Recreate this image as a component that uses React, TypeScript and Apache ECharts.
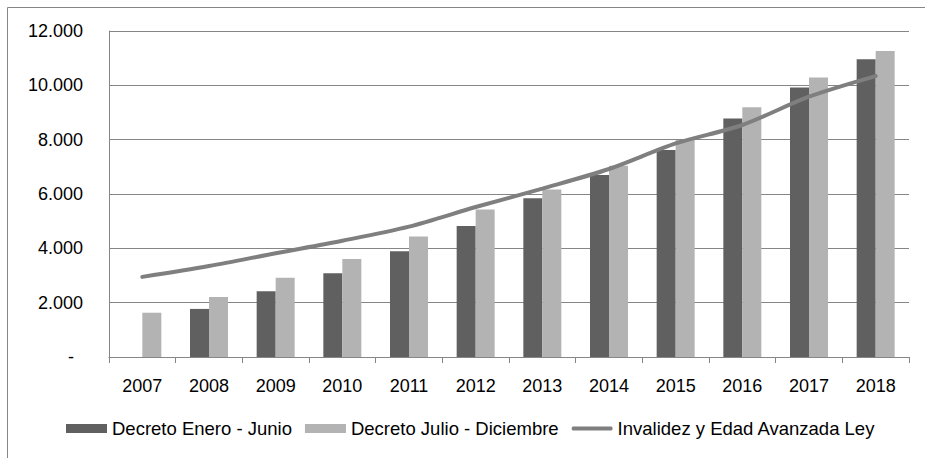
import React, { useEffect, useRef } from "react";
import * as echarts from "echarts";

const years = ["2007", "2008", "2009", "2010", "2011", "2012", "2013", "2014", "2015", "2016", "2017", "2018"];
const eneroJunio: (number | null)[] = [null, 1770, 2420, 3080, 3890, 4820, 5840, 6700, 7620, 8780, 9920, 10960];
const julioDiciembre = [1630, 2210, 2920, 3610, 4440, 5430, 6170, 7040, 7990, 9190, 10290, 11260];
const invalidezLey = [2950, 3350, 3820, 4280, 4800, 5520, 6200, 6920, 7860, 8540, 9580, 10340];
const seriesNames = ["Decreto Enero - Junio", "Decreto Julio - Diciembre", "Invalidez y Edad Avanzada Ley"];

const FONT = "'Liberation Sans', Arial, sans-serif";

function fmt(v: number): string {
  return String(Math.round(v)).replace(/\B(?=(\d{3})+(?!\d))/g, ".");
}

export default function App() {
  const ref = useRef<HTMLDivElement>(null);
  useEffect(() => {
    document.body.style.margin = "0";
    if (!ref.current) return;
    const chart = echarts.init(ref.current, undefined, { renderer: "svg" });
    chart.setOption({
      animation: false,
      backgroundColor: "#ffffff",
      textStyle: { fontFamily: FONT },
      graphic: [
        {
          type: "rect",
          shape: { x: 7.5, y: 7.5, width: 940, height: 470 },
          style: { fill: "none", stroke: "#868686", lineWidth: 1 },
          silent: true,
          z: -1,
        },
      ],
      grid: { left: 109, right: 16, top: 31, bottom: 101 },
      legend: {
        left: 66,
        top: 419,
        padding: 0,
        itemWidth: 41,
        itemHeight: 9,
        itemGap: 13,
        symbolKeepAspect: true,
        textStyle: { fontFamily: FONT, fontSize: 18.5, color: "#000" },
        data: [
          { name: seriesNames[0], icon: "rect" },
          { name: seriesNames[1], icon: "rect" },
          { name: seriesNames[2], icon: "path://M2,0 L41,0 Q43,2 41,4 L2,4 Q0,2 2,0 Z" },
        ],
      },
      xAxis: {
        type: "category",
        data: years,
        axisLine: { lineStyle: { color: "#868686", width: 1 } },
        axisTick: { show: true, length: 6, lineStyle: { color: "#868686" } },
        axisLabel: { fontFamily: FONT, fontSize: 18, color: "#000", margin: 20 },
      },
      yAxis: {
        type: "value",
        min: 0,
        max: 12000,
        interval: 2000,
        axisLine: { show: true, lineStyle: { color: "#868686", width: 1 } },
        axisTick: { show: false },
        splitLine: { lineStyle: { color: "#868686", width: 1 } },
        axisLabel: {
          fontFamily: FONT,
          fontSize: 18,
          color: "#000",
          margin: 26,
          formatter: (v: number) => (v === 0 ? "{z|-}" : fmt(v)),
          rich: { z: { fontFamily: FONT, fontSize: 18, color: "#000", padding: [0, 9, 0, 0] } },
        },
      },
      series: [
        {
          name: seriesNames[0],
          type: "bar",
          data: eneroJunio,
          barWidth: 19,
          barGap: "0%",
          itemStyle: { color: "#606060" },
        },
        {
          name: seriesNames[1],
          type: "bar",
          data: julioDiciembre,
          barWidth: 19,
          barGap: "0%",
          itemStyle: { color: "#b3b3b3" },
        },
        {
          name: seriesNames[2],
          type: "line",
          data: invalidezLey,
          smooth: 0.3,
          symbol: "none",
          lineStyle: { color: "#7f7f7f", width: 4, cap: "round" },
          itemStyle: { color: "#7f7f7f" },
          z: 5,
        },
      ],
    });
    return () => chart.dispose();
  }, []);
  return <div ref={ref} style={{ width: 925, height: 458 }} />;
}
